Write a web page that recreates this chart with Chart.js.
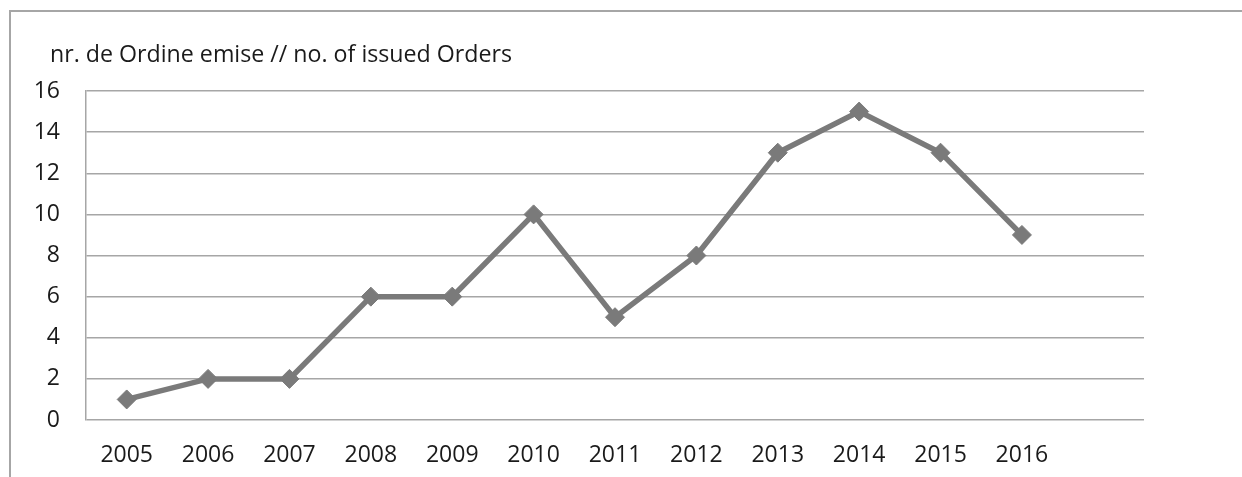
<!DOCTYPE html>
<html>
<head>
<meta charset="utf-8">
<script src="https://cdn.jsdelivr.net/npm/chart.js@4.4.0/dist/chart.umd.min.js"></script>
<style>
  html, body { margin: 0; padding: 0; background: #fff; }
  #wrap { position: relative; width: 1242px; height: 477px; }
  #frame { position: absolute; left: 9px; top: 10px; right: 0; bottom: 0;
           border-top: 2px solid #a6a6a6; border-left: 2px solid #a6a6a6; }
  canvas { position: absolute; left: 0; top: 0; }
</style>
</head>
<body>
<div id="wrap">
  <div id="frame"></div>
  <canvas id="myChart" width="1242" height="477"></canvas>
</div>
<script>
// data
const years = ['2005', '2006', '2007', '2008', '2009', '2010', '2011', '2012', '2013', '2014', '2015', '2016', ''];
const orders = [1, 2, 2, 6, 6, 10, 5, 8, 13, 15, 13, 9, null];
const yTicks = [0, 2, 4, 6, 8, 10, 12, 14, 16];
const titleText = 'nr. de Ordine emise // no. of issued Orders';

const fontFamily = '"Open Sans", Lato, sans-serif';
const gridColor = '#a6a6a6';
const lineColor = '#7a7a7a';

// title drawn top-left, like the original
const titlePlugin = {
  id: 'cornerTitle',
  afterDraw(chart) {
    const c = chart.ctx;
    c.save();
    c.font = '23.2px ' + fontFamily;
    c.fillStyle = '#1a1a1a';
    c.textBaseline = 'alphabetic';
    c.textAlign = 'left';
    c.fillText(titleText, 50, 62);
    c.restore();
  }
};

const config = {
  type: 'line',
  data: {
    labels: years,
    datasets: [{
      label: titleText,
      data: orders,
      borderColor: lineColor,
      backgroundColor: lineColor,
      borderWidth: 5.5,
      pointStyle: 'rectRot',
      pointRadius: 9.5,
      pointHoverRadius: 9.5,
      pointBorderWidth: 1,
      tension: 0
    }]
  },
  options: {
    responsive: false,
    animation: false,
    layout: { padding: { left: 0, right: 98, top: 91, bottom: 0 } },
    plugins: {
      legend: { display: false },
      title: { display: false },
      tooltip: { enabled: false }
    },
    scales: {
      x: {
        offset: true,
        grid: { display: false, drawTicks: false },
        border: { display: false },
        ticks: { color: '#1a1a1a', font: { family: fontFamily, size: 23 }, padding: 22, maxRotation: 0, autoSkip: false },
        afterFit(scale) { scale.height = 57; }
      },
      y: {
        min: 0,
        max: 16,
        afterBuildTicks(scale) { scale.ticks = yTicks.map(v => ({ value: v })); },
        grid: { color: gridColor, lineWidth: 1.5, drawTicks: false },
        border: { display: true, color: gridColor, width: 1.5 },
        ticks: { color: '#1a1a1a', font: { family: fontFamily, size: 23 }, padding: 26 },
        afterFit(scale) { scale.width = 86; }
      }
    }
  },
  plugins: [titlePlugin]
};

const myChart = new Chart(document.getElementById('myChart'), config);
</script>
</body>
</html>
